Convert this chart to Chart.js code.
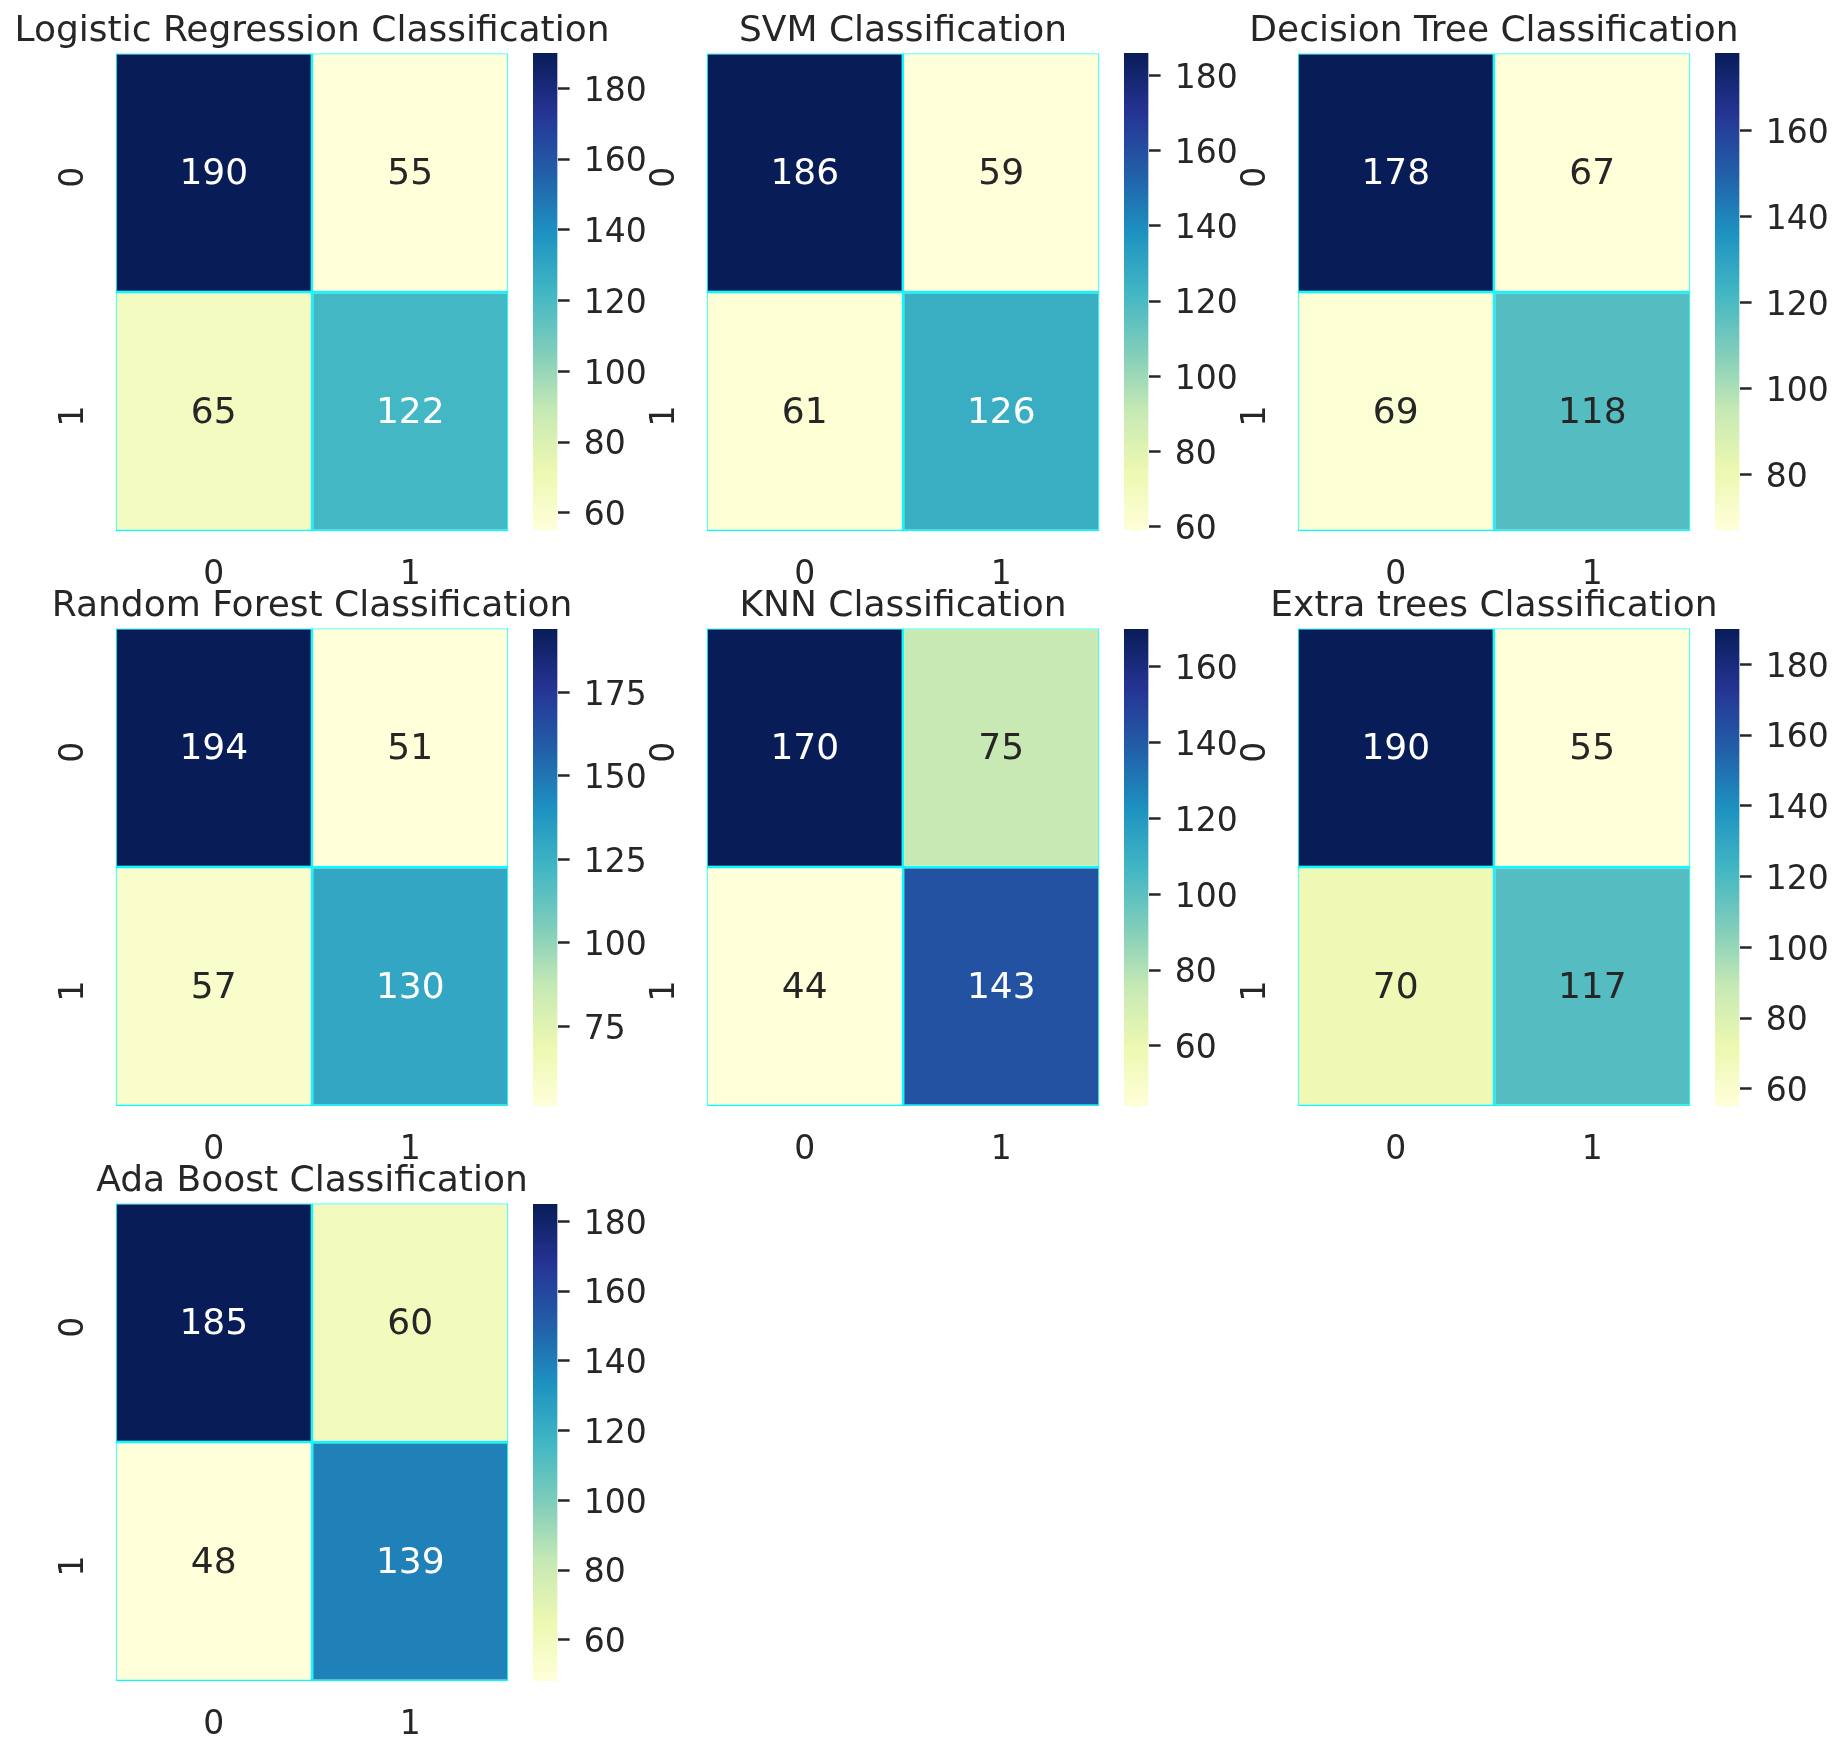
<!DOCTYPE html>
<html>
<head>
<meta charset="utf-8">
<script src="https://cdn.jsdelivr.net/npm/chart.js@4.4.1/dist/chart.umd.min.js"></script>
<style>
  html, body { margin: 0; padding: 0; background: #fff; }
  #fig { position: relative; width: 1842px; height: 1757px; overflow: hidden; background: #fff; }
  #fig canvas { position: absolute; }
</style>
</head>
<body>
<div id="fig"></div>
<script>
// Data ==========================
const titles = [
    "Logistic Regression Classification",
    "SVM Classification",
    "Decision Tree Classification",
    "Random Forest Classification",
    "KNN Classification",
    "Extra trees Classification",
    "Ada Boost Classification"
];
const classLabels = ["0", "1"];

// confusion matrices: rows = actual, cols = predicted
const lrMatrix  = [[190, 55], [65, 122]];
const svmMatrix = [[186, 59], [61, 126]];
const dtMatrix  = [[178, 67], [69, 118]];
const rfMatrix  = [[194, 51], [57, 130]];
const knnMatrix = [[170, 75], [44, 143]];
const etMatrix  = [[190, 55], [70, 117]];
const adaMatrix = [[185, 60], [48, 139]];

// colorbar tick labels
const lrTicks  = [60, 80, 100, 120, 140, 160, 180];
const svmTicks = [60, 80, 100, 120, 140, 160, 180];
const dtTicks  = [80, 100, 120, 140, 160];
const rfTicks  = [75, 100, 125, 150, 175];
const knnTicks = [60, 80, 100, 120, 140, 160];
const etTicks  = [60, 80, 100, 120, 140, 160, 180];
const adaTicks = [60, 80, 100, 120, 140, 160, 180];

const matrices = [lrMatrix, svmMatrix, dtMatrix, rfMatrix, knnMatrix, etMatrix, adaMatrix];
const cbTicks = [lrTicks, svmTicks, dtTicks, rfTicks, knnTicks, etTicks, adaTicks];

// Style ==========================
// matplotlib YlGnBu
const ylGnBu = [
    [255, 255, 217], [237, 248, 177], [199, 233, 180], [127, 205, 187], [65, 182, 196],
    [29, 145, 192], [34, 94, 168], [37, 52, 148], [8, 29, 88]
];
const textDark = "#262626";
const lineColor = "#00ffff";

Chart.defaults.font.family = '"DejaVu Sans"';
Chart.defaults.color = textDark;

// layout (px)
const colStep = 591.2, rowStep = 575.2;
const heatLeft = 115.5, heatTop = 53.3, heatW = 393, heatH = 477.6;
const cbOffset = 417.2, cbW = 24.6;
const canvasW = 624, canvasH = 606;
const cbCanvasW = 155, cbPad = 30;

function colorAt(t) {
    t = Math.min(1, Math.max(0, t));
    const pos = t * (ylGnBu.length - 1);
    const i = Math.min(ylGnBu.length - 2, Math.floor(pos));
    const f = pos - i;
    return ylGnBu[i].map((c, k) => Math.round(c + (ylGnBu[i + 1][k] - c) * f));
}

function rgbStr(c) {
    return `rgb(${c[0]},${c[1]},${c[2]})`;
}

// seaborn's rule for annotation colour
function textColorFor(c) {
    const lin = c.map(v => {
        v = v / 255;
        return v <= 0.03928 ? v / 12.92 : Math.pow((v + 0.055) / 1.055, 2.4);
    });
    const lum = 0.2126 * lin[0] + 0.7152 * lin[1] + 0.0722 * lin[2];
    return lum > 0.408 ? textDark : "#ffffff";
}

const cellText = {
    id: "cellText",
    afterDatasetsDraw(chart) {
        const ctx = chart.ctx;
        ctx.save();
        ctx.font = '36px "DejaVu Sans"';
        ctx.textAlign = "center";
        ctx.textBaseline = "middle";
        chart.data.datasets.forEach((ds, i) => {
            chart.getDatasetMeta(i).data.forEach((bar, j) => {
                ctx.fillStyle = ds.textColors[j];
                ctx.fillText(String(ds.values[j]), bar.x, (bar.y + bar.base) / 2 + 2.3);
            });
        });
        ctx.restore();
    }
};

const fig = document.getElementById("fig");

function addCanvas(left, top, w, h) {
    const c = document.createElement("canvas");
    c.width = w;
    c.height = h;
    c.style.left = left + "px";
    c.style.top = top + "px";
    c.style.width = w + "px";
    c.style.height = h + "px";
    fig.appendChild(c);
    return c.getContext("2d");
}

// Panels ==========================
matrices.forEach((m, p) => {
    const col = p % 3, row = Math.floor(p / 3);
    const x0 = col * colStep, y0 = row * rowStep;
    const flat = m.flat();
    const vmin = Math.min(...flat), vmax = Math.max(...flat);

    const datasets = m.map((rowVals, r) => {
        const cols = rowVals.map(v => colorAt((v - vmin) / (vmax - vmin)));
        return {
            data: rowVals.map(() => [r, r + 1]),
            values: rowVals,
            backgroundColor: cols.map(rgbStr),
            textColors: cols.map(textColorFor),
            borderColor: lineColor,
            borderWidth: 1.3,
            borderSkipped: false,
            inflateAmount: 0,
            grouped: false,
            barPercentage: 1,
            categoryPercentage: 1
        };
    });

    new Chart(addCanvas(x0, y0, canvasW, canvasH), {
        type: "bar",
        data: { labels: classLabels, datasets: datasets },
        plugins: [cellText],
        options: {
            responsive: false,
            animation: false,
            events: [],
            layout: { padding: 0 },
            plugins: {
                legend: { display: false },
                tooltip: { enabled: false },
                title: {
                    display: true,
                    text: titles[p],
                    font: { size: 36, weight: "normal" },
                    color: textDark,
                    padding: { top: 10.1, bottom: 0 }
                }
            },
            scales: {
                x: {
                    grid: { display: false, drawTicks: false },
                    border: { display: false },
                    ticks: { font: { size: 33 }, padding: 25, color: textDark },
                    afterFit(s) { s.height = canvasH - heatTop - heatH; s.paddingLeft = 0; s.paddingRight = 0; }
                },
                y: {
                    type: "linear",
                    min: 0,
                    max: classLabels.length,
                    reverse: true,
                    grid: { display: false, drawTicks: false },
                    border: { display: false },
                    ticks: {
                        font: { size: 33 },
                        color: textDark,
                        minRotation: 90,
                        maxRotation: 90,
                        crossAlign: "center",
                        padding: 30.5,
                        labelOffset: 4.5,
                        callback: (v, i) => classLabels[i]
                    },
                    afterBuildTicks(s) { s.ticks = classLabels.map((_, i) => ({ value: i + 0.5 })); },
                    afterFit(s) { s.width = heatLeft; s.paddingTop = 0; s.paddingBottom = 0; }
                },
                yRight: {
                    type: "linear",
                    position: "right",
                    grid: { display: false, drawTicks: false },
                    border: { display: false },
                    ticks: { display: false },
                    afterFit(s) { s.width = canvasW - heatLeft - heatW; s.paddingTop = 0; s.paddingBottom = 0; }
                }
            }
        }
    });

    // colorbar
    const ticks = cbTicks[p];
    const cbH = Math.ceil(heatH + 2 * cbPad);
    new Chart(addCanvas(x0 + heatLeft + cbOffset, y0 + heatTop - cbPad, cbCanvasW, cbH), {
        type: "bar",
        data: {
            labels: ["cb"],
            datasets: [{
                data: [[vmin, vmax]],
                borderWidth: 0,
                inflateAmount: 0,
                barPercentage: 1,
                categoryPercentage: 1,
                backgroundColor(c) {
                    const area = c.chart.chartArea;
                    if (!area) return rgbStr(ylGnBu[4]);
                    const g = c.chart.ctx.createLinearGradient(0, area.bottom, 0, area.top);
                    ylGnBu.forEach((s, i) => g.addColorStop(i / (ylGnBu.length - 1), rgbStr(s)));
                    return g;
                }
            }]
        },
        options: {
            responsive: false,
            animation: false,
            events: [],
            layout: { padding: { top: cbPad, bottom: cbH - heatH - cbPad, left: 0, right: 0 } },
            plugins: { legend: { display: false }, tooltip: { enabled: false } },
            scales: {
                x: { display: false },
                y: {
                    position: "right",
                    min: vmin,
                    max: vmax,
                    grid: {
                        display: true,
                        drawOnChartArea: false,
                        drawTicks: true,
                        tickLength: 12,
                        tickWidth: 2.5,
                        tickColor: textDark
                    },
                    border: { display: false },
                    ticks: { font: { size: 33 }, color: textDark, padding: 14.2, labelOffset: 3.7 },
                    afterBuildTicks(s) { s.ticks = ticks.map(v => ({ value: v })); },
                    afterFit(s) { s.width = cbCanvasW - cbW; s.paddingTop = 0; s.paddingBottom = 0; }
                }
            }
        }
    });
});
</script>
</body>
</html>
